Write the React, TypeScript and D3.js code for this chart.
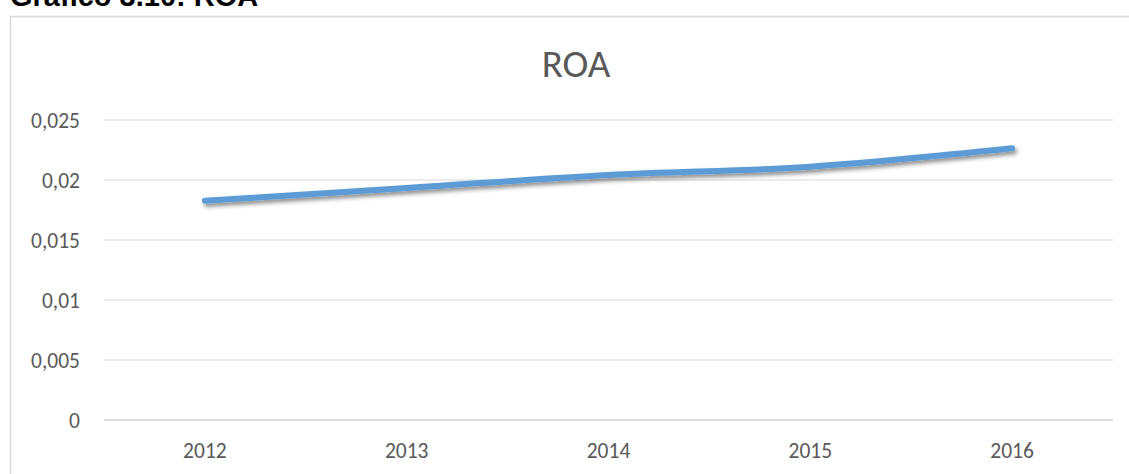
import { useEffect, useRef } from 'react';
import * as d3 from 'd3';

const years = ['2012', '2013', '2014', '2015', '2016'];
const roa = [0.01828, 0.01933, 0.02042, 0.02111, 0.02264];
const yTicks = [0, 0.005, 0.01, 0.015, 0.02, 0.025];
const yTickLabels = ['0', '0,005', '0,01', '0,015', '0,02', '0,025'];

const W = 1129;
const H = 474;
const FONT = 'Calibri, Carlito, Lato, "Open Sans", sans-serif';

export default function App() {
    const svgRef = useRef<SVGSVGElement>(null);

    useEffect(() => {
        const svg = d3.select(svgRef.current);
        svg.selectAll('*').remove();

        const left = 104;
        const right = 1113;
        const top = 120;
        const bottom = 420;

        // shadow under the line
        const defs = svg.append('defs');
        defs.append('filter')
            .attr('id', 'shadow')
            .attr('x', '-5%').attr('y', '-50%')
            .attr('width', '110%').attr('height', '200%')
            .append('feDropShadow')
            .attr('dx', 2).attr('dy', 3)
            .attr('stdDeviation', 2)
            .attr('flood-color', '#000')
            .attr('flood-opacity', 0.45);

        // heading, cut off at the top like in the source page
        svg.append('text')
            .attr('x', 10)
            .attr('y', 6)
            .attr('font-family', 'Arial, "Liberation Sans", sans-serif')
            .attr('font-weight', 'bold')
            .attr('font-size', 29)
            .attr('fill', '#000')
            .text('Gráfico 3.10: ROA');

        // chart frame
        svg.append('rect')
            .attr('x', 10.5).attr('y', 16.5)
            .attr('width', 1130).attr('height', 470)
            .attr('fill', '#fff')
            .attr('stroke', '#d9d9d9')
            .attr('stroke-width', 1.5);

        // scales
        const x = d3.scaleBand().domain(years).range([left, right]);
        const y = d3.scaleLinear().domain([0, 0.025]).range([bottom, top]);

        // grid lines
        svg.append('g')
            .selectAll('line')
            .data(yTicks)
            .join('line')
            .attr('x1', left).attr('x2', right)
            .attr('y1', (d) => y(d)).attr('y2', (d) => y(d))
            .attr('stroke', '#d9d9d9')
            .attr('stroke-width', (d) => (d === 0 ? 2 : 1.2));

        // y labels
        svg.append('g')
            .selectAll('text')
            .data(yTicks)
            .join('text')
            .attr('x', 80)
            .attr('y', (d) => y(d))
            .attr('dy', '0.36em')
            .attr('text-anchor', 'end')
            .attr('font-family', FONT)
            .attr('font-size', 21.5)
            .attr('fill', '#595959')
            .text((d, i) => yTickLabels[i]);

        // x labels
        svg.append('g')
            .selectAll('text')
            .data(years)
            .join('text')
            .attr('x', (d) => x(d)! + x.bandwidth() / 2)
            .attr('y', 458)
            .attr('text-anchor', 'middle')
            .attr('font-family', FONT)
            .attr('font-size', 21.5)
            .attr('fill', '#595959')
            .text((d) => d);

        // title
        svg.append('text')
            .attr('x', 576)
            .attr('y', 77)
            .attr('text-anchor', 'middle')
            .attr('font-family', FONT)
            .attr('font-size', 39)
            .attr('fill', '#595959')
            .text('ROA');

        // line
        const line = d3.line<number>()
            .x((d, i) => x(years[i])! + x.bandwidth() / 2)
            .y((d) => y(d))
            .curve(d3.curveCatmullRom.alpha(0.5));

        svg.append('path')
            .datum(roa)
            .attr('d', line)
            .attr('fill', 'none')
            .attr('stroke', '#5b9bd5')
            .attr('stroke-width', 6)
            .attr('stroke-linecap', 'round')
            .attr('stroke-linejoin', 'round')
            .attr('filter', 'url(#shadow)');
    }, []);

    return (
        <svg
            ref={svgRef}
            width={W}
            height={H}
            style={{ position: 'absolute', left: 0, top: 0, display: 'block' }}
        />
    );
}
